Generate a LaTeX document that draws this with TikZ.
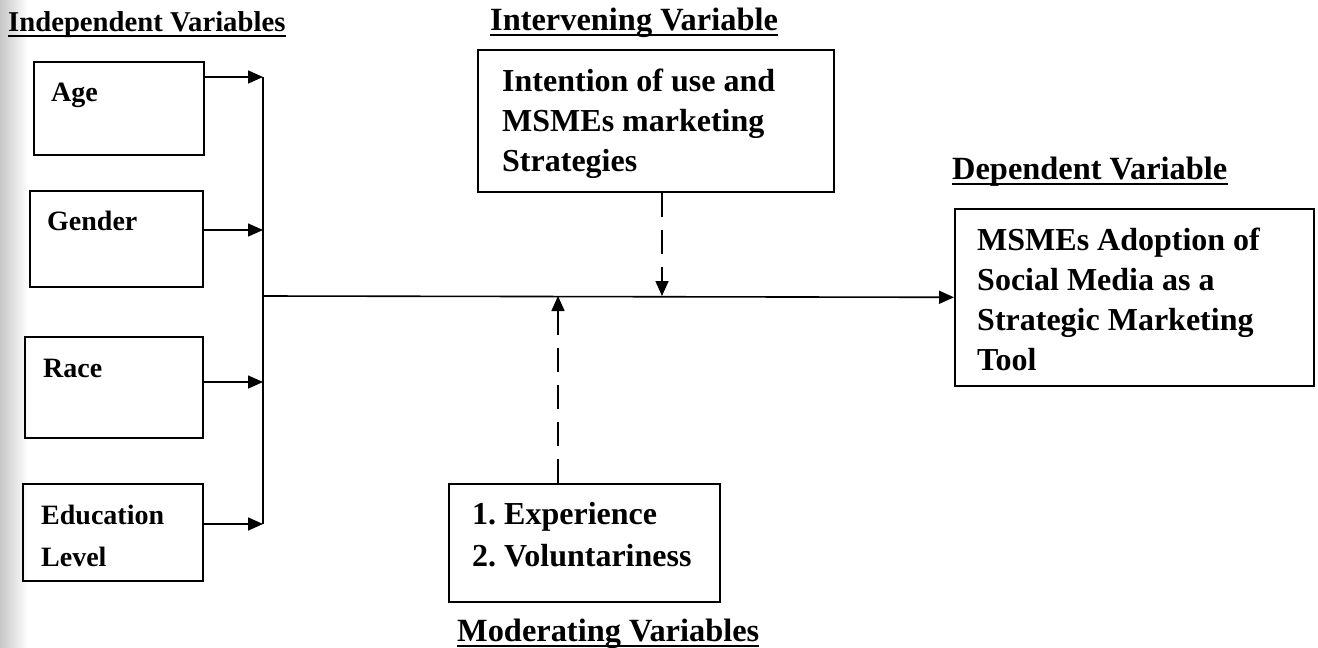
\documentclass[tikz,border=0pt]{standalone}
\usepackage{fontspec}
\setmainfont{Liberation Serif}
\usetikzlibrary{arrows.meta,calc}
\frenchspacing
\begin{document}
\begin{tikzpicture}[x=1pt,y=-1pt,
  box/.style={draw, line width=1.6pt, inner sep=0pt, anchor=north west},
  ltxt/.style={font=\bfseries\fontsize{28}{42}\selectfont, inner sep=0pt, anchor=base west, align=left},
  ctxt/.style={font=\bfseries\fontsize{32}{40}\selectfont, inner sep=0pt, anchor=base west, align=left},
  head/.style={font=\bfseries\fontsize{32.4}{40}\selectfont, inner sep=0pt, anchor=base west},
  uline/.style={line width=2.5pt},
  plain/.style={line width=1.6pt},
  arr/.style={line width=1.6pt, -{Triangle[length=15pt,width=13pt]}},
  darr/.style={arr, dash pattern=on 24pt off 13pt}]
\useasboundingbox (0,0) rectangle (1318,648);
\shade[left color=black!22, right color=white] (0,0) rectangle (28,648);

% headings
\node[head, font=\bfseries\fontsize{28.7}{40}\selectfont] (hind) at (8,31) {Independent Variables};
\node[head] (hint) at (490,30) {Intervening Variable};
\node[head] (hdep) at (952,179) {Dependent Variable};
\node[head] (hmod) at (457,641) {Moderating Variables};
\foreach \h in {hind,hint,hdep,hmod}
  \draw[uline] ([yshift=-5pt]\h.base west) -- ([yshift=-5pt]\h.base east);

% boxes
\node[box, minimum width=170pt, minimum height=93pt] (age) at (33,61) {};
\node[box, minimum width=173pt, minimum height=96pt] (gender) at (29,190) {};
\node[box, minimum width=178pt, minimum height=101pt] (race) at (24,336) {};
\node[box, minimum width=180pt, minimum height=97pt] (edu) at (22,483) {};
\node[box, minimum width=356pt, minimum height=142pt] (int) at (477,49) {};
\node[box, minimum width=271pt, minimum height=118pt] (mod) at (448,483) {};
\node[box, minimum width=359pt, minimum height=177pt] (dep) at (954,208) {};

% texts (multi-line nodes are placed at the baseline of their last line)
\node[ltxt] (tage) at (51,101) {Age};
\node[ltxt] (tgender) at (47,230) {Gender};
\node[ltxt] (trace) at (43,377) {Race};
\node[ltxt] (tedu) at (41,566) {Education\\Level};
\node[ctxt] (tint) at (502,171) {Intention of use and\\MSMEs marketing\\Strategies};
\node[ctxt, font=\bfseries\fontsize{32}{42}\selectfont] (tmod) at (472,566) {1. Experience\\2. Voluntariness};
\node[ctxt] (tdep) at (977,370) {MSMEs Adoption of\\Social Media as a\\Strategic Marketing\\Tool};

% junction coordinates
\coordinate (j1) at (263,77);
\coordinate (j2) at (263,230);
\coordinate (j3) at (263,382);
\coordinate (j4) at (263,524);
\coordinate (jm) at (263,296);
\coordinate (m1) at (662,296);
\coordinate (m2) at (558,296);

% connectors
\draw[plain] (j1) -- (j4);
\draw[arr] (age.east |- j1) -- (j1);
\draw[arr] (gender.east |- j2) -- (j2);
\draw[arr] (race.east |- j3) -- (j3);
\draw[arr] (edu.east |- j4) -- (j4);
\draw[arr] (jm) -- (dep.west);
\draw[darr] (int.south -| m1) -- (m1);
\draw[darr] (mod.north -| m2) -- (m2);
\end{tikzpicture}
\end{document}
